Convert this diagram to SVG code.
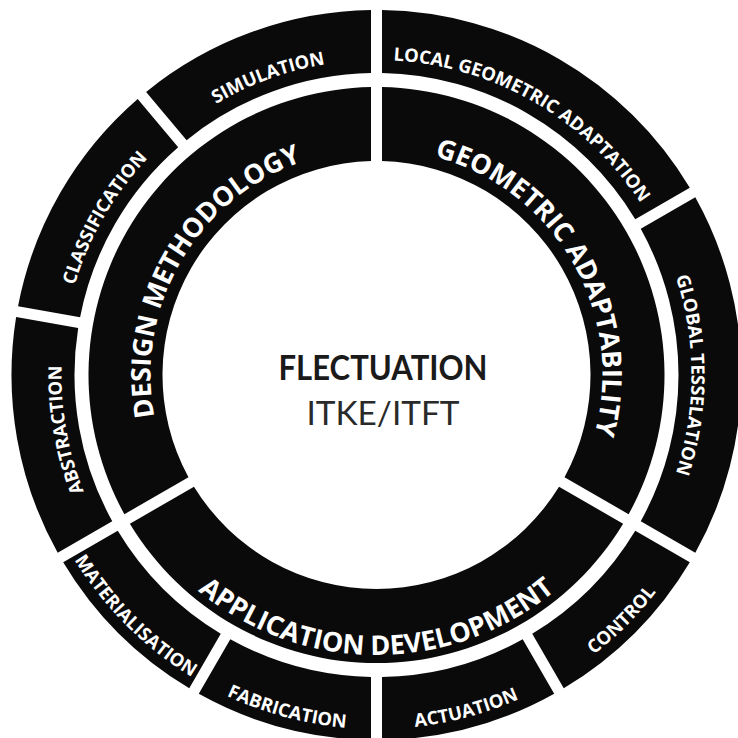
<svg xmlns="http://www.w3.org/2000/svg" width="738" height="738" viewBox="0 0 738 738">
  <style>
    .seg { fill: #0a0a0a; }
    .lbl { fill: #ffffff; font-family: "Open Sans", "DejaVu Sans", sans-serif; font-weight: 700; }
    .outer { font-size: 18.4px; }
    .inner { font-size: 27px; }
    .title { font-family: Lato, "Open Sans", sans-serif; text-anchor: middle; }
  </style>
  <defs>
    <!-- baseline arcs for the curved labels, centred on the ring origin -->
    <path id="p-simulation" d="M-202.48,-241.30 A315,315 0 0 1 0,-315"/>
    <path id="p-local" d="M0,-315 A315,315 0 0 1 272.80,-157.5"/>
    <path id="p-global" d="M272.80,-157.5 A315,315 0 0 1 272.80,157.5"/>
    <path id="p-abstraction" d="M-272.80,157.5 A315,315 0 0 1 -310.21,-54.70"/>
    <path id="p-classification" d="M-310.21,-54.70 A315,315 0 0 1 -202.48,-241.30"/>
    <path id="p-control" d="M177,306.57 A354,354 0 0 0 306.57,177"/>
    <path id="p-actuation" d="M0,354 A354,354 0 0 0 177,306.57"/>
    <path id="p-fabrication" d="M-177,306.57 A354,354 0 0 0 0,354"/>
    <path id="p-materialisation" d="M-306.57,177 A354,354 0 0 0 -177,306.57"/>
    <path id="p-geometric" d="M0,-226 A226,226 0 0 1 195.72,113"/>
    <path id="p-design" d="M-195.72,113 A226,226 0 0 1 0,-226"/>
    <path id="p-application" d="M-242.49,140 A280,280 0 0 0 242.49,140"/>
  </defs>

  <rect width="738" height="738" fill="#ffffff"/>

  <g transform="translate(376.5,375)">
    <!-- outer ring -->
    <g id="local-geometric-adaptation">
      <path class="seg" d="M5.5,-364.96 A365,365 0 0 1 313.31,-187.24 L258.75,-155.74 A302,302 0 0 0 5.5,-301.95 Z"/>
      <text class="lbl outer"><textPath href="#p-local" startOffset="50%" text-anchor="middle">LOCAL GEOMETRIC ADAPTATION</textPath></text>
    </g>
    <g id="global-tesselation">
      <path class="seg" d="M318.81,-177.72 A365,365 0 0 1 318.81,177.72 L264.25,146.21 A302,302 0 0 0 264.25,-146.21 Z"/>
      <text class="lbl outer"><textPath href="#p-global" startOffset="50%" text-anchor="middle">GLOBAL TESSELATION</textPath></text>
    </g>
    <g id="control">
      <path class="seg" d="M313.31,187.24 A365,365 0 0 1 187.24,313.31 L155.74,258.75 A302,302 0 0 0 258.75,155.74 Z"/>
      <text class="lbl outer"><textPath href="#p-control" startOffset="50%" text-anchor="middle">CONTROL</textPath></text>
    </g>
    <g id="actuation">
      <path class="seg" d="M177.72,318.81 A365,365 0 0 1 5.5,364.96 L5.5,301.95 A302,302 0 0 0 146.21,264.25 Z"/>
      <text class="lbl outer"><textPath href="#p-actuation" startOffset="50%" text-anchor="middle">ACTUATION</textPath></text>
    </g>
    <g id="fabrication">
      <path class="seg" d="M-5.5,364.96 A365,365 0 0 1 -177.72,318.81 L-146.21,264.25 A302,302 0 0 0 -5.5,301.95 Z"/>
      <text class="lbl outer"><textPath href="#p-fabrication" startOffset="50%" text-anchor="middle">FABRICATION</textPath></text>
    </g>
    <g id="materialisation">
      <path class="seg" d="M-187.24,313.31 A365,365 0 0 1 -313.31,187.24 L-258.75,155.74 A302,302 0 0 0 -155.74,258.75 Z"/>
      <text class="lbl outer"><textPath href="#p-materialisation" startOffset="50%" text-anchor="middle">MATERIALISATION</textPath></text>
    </g>
    <g id="abstraction">
      <path class="seg" d="M-318.81,177.72 A365,365 0 0 1 -360.37,-57.96 L-298.32,-47.02 A302,302 0 0 0 -264.25,146.21 Z"/>
      <text class="lbl outer"><textPath href="#p-abstraction" startOffset="50%" text-anchor="middle">ABSTRACTION</textPath></text>
    </g>
    <g id="classification">
      <path class="seg" d="M-358.46,-68.79 A365,365 0 0 1 -238.80,-276.04 L-198.30,-227.77 A302,302 0 0 0 -296.41,-57.85 Z"/>
      <text class="lbl outer"><textPath href="#p-classification" startOffset="50%" text-anchor="middle">CLASSIFICATION</textPath></text>
    </g>
    <g id="simulation">
      <path class="seg" d="M-230.38,-283.11 A365,365 0 0 1 -5.5,-364.96 L-5.5,-301.95 A302,302 0 0 0 -189.88,-234.84 Z"/>
      <text class="lbl outer"><textPath href="#p-simulation" startOffset="50%" text-anchor="middle">SIMULATION</textPath></text>
    </g>

    <!-- inner ring -->
    <g id="geometric-adaptability">
      <path class="seg" d="M5.5,-287.95 A288,288 0 0 1 252.12,139.21 L188.02,102.20 A214,214 0 0 0 5.5,-213.93 Z"/>
      <text class="lbl inner"><textPath href="#p-geometric" startOffset="50%" text-anchor="middle">GEOMETRIC ADAPTABILITY</textPath></text>
    </g>
    <g id="application-development">
      <path class="seg" d="M246.62,148.74 A288,288 0 0 1 -246.62,148.74 L-182.52,111.73 A214,214 0 0 0 182.52,111.73 Z"/>
      <text class="lbl inner"><textPath href="#p-application" startOffset="50%" text-anchor="middle">APPLICATION DEVELOPMENT</textPath></text>
    </g>
    <g id="design-methodology">
      <path class="seg" d="M-252.12,139.21 A288,288 0 0 1 -5.5,-287.95 L-5.5,-213.93 A214,214 0 0 0 -188.02,102.20 Z"/>
      <text class="lbl inner"><textPath href="#p-design" startOffset="50%" text-anchor="middle">DESIGN METHODOLOGY</textPath></text>
    </g>

    <!-- centre title -->
    <g id="flectuation">
      <text class="title" x="6.5" y="5" font-size="34" font-weight="700" fill="#1a1a1a" textLength="209" lengthAdjust="spacingAndGlyphs">FLECTUATION</text>
      <text class="title" x="6.5" y="50" font-size="32" font-weight="400" fill="#2a2a2a" textLength="153" lengthAdjust="spacingAndGlyphs">ITKE/ITFT</text>
    </g>
  </g>
</svg>
